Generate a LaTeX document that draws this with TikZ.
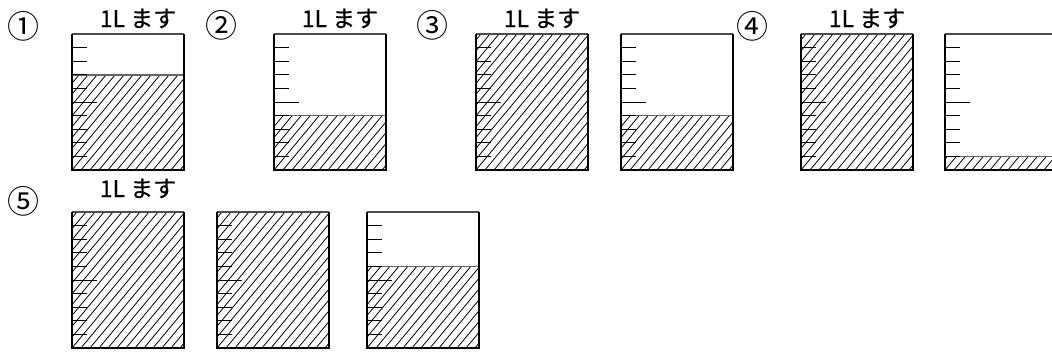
\documentclass[tikz,border=0pt]{standalone}
\usepackage{fontspec}
\newfontfamily\jp{Noto Sans CJK JP}
\newfontfamily\jpb[FakeBold=0.6]{Noto Sans CJK JP}
\tikzset{
  hatchline/.style={black, line width=0.8pt},
  wall/.style={black, line width=2pt},
  rim/.style={black!70, line width=1.2pt},
  levelline/.style={black!60, line width=1.6pt},
  tickline/.style={black, line width=1pt},
  masulabel/.style={font=\jpb\fontsize{23}{26}\selectfont, inner sep=0pt, anchor=base},
  numlabel/.style={font=\jp\fontsize{32}{34}\selectfont, inner sep=0pt, anchor=center}
}
\newcommand{\masu}[3]{%
  \begin{scope}[shift={(#1,#2)}]
    \pgfmathsetmacro\lev{136*(1-#3)}
    \begin{scope}
      \clip (0,\lev) rectangle (112,136);
      \foreach \k in {-14,...,14} \draw[hatchline] (\k*9,136) -- ++(113,-136);
    \end{scope}
    \draw[rim] (0,0) -- (112,0);
    \ifdim #3pt<1pt \ifdim #3pt>0pt \draw[levelline] (0,\lev) -- (112,\lev); \fi\fi
    \foreach \i in {1,...,9} {
      \pgfmathsetmacro\tl{ifthenelse(\i==5,25,15)}
      \draw[tickline] (0,13.6*\i) -- ++(\tl,0);
    }
    \draw[wall] (0,0) -- (0,136) -- (112,136) -- (112,0);
  \end{scope}}
\begin{document}
\begin{tikzpicture}[x=1pt,y=-1pt]
\useasboundingbox (0,0) rectangle (1052,351);
\clip (0,0) rectangle (1052,351);
\fill[white] (0,0) rectangle (1052,351);
% row 1
\masu{72}{34}{0.7}
\masu{274}{34}{0.4}
\masu{476}{34}{1}
\masu{621}{34}{0.4}
\masu{801}{34}{1}
\masu{945}{34}{0.1}
% row 2
\masu{72}{212}{1}
\masu{217}{212}{1}
\masu{367}{212}{0.6}
% labels
\node[numlabel] (n1) at (23,26) {①};
\node[numlabel] (n2) at (221,25) {②};
\node[numlabel] (n3) at (432,25) {③};
\node[numlabel] (n4) at (752,26) {④};
\node[numlabel] (n5) at (23,201) {⑤};
\node[masulabel] (m1) at (138,27) {1L ます};
\node[masulabel] (m2) at (340,27) {1L ます};
\node[masulabel] (m3) at (542,27) {1L ます};
\node[masulabel] (m4) at (867,27) {1L ます};
\node[masulabel] (m5) at (138,197) {1L ます};
\end{tikzpicture}
\end{document}
